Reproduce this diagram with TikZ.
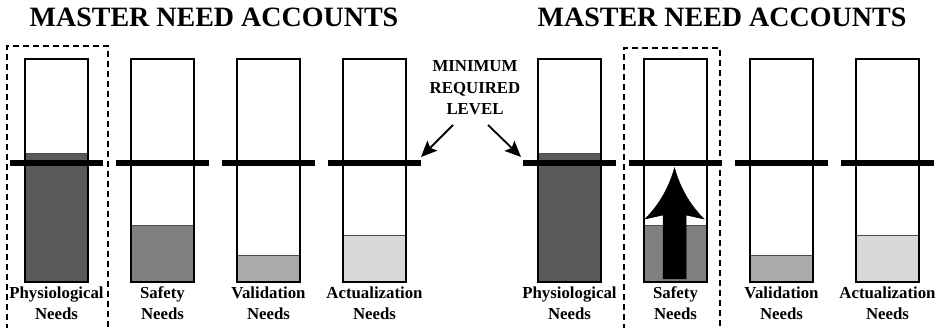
\documentclass[tikz,border=0pt]{standalone}
\usepackage{fontspec}
\setmainfont{Liberation Serif}
\usetikzlibrary{arrows.meta}
\definecolor{lvA}{HTML}{5A5A5A}
\definecolor{lvB}{HTML}{808080}
\definecolor{lvC}{HTML}{AAAAAA}
\definecolor{lvD}{HTML}{D8D8D8}
\tikzset{
  tube/.style={draw=black,line width=1.6pt,fill=none},
  level/.style={draw=black!70,line width=0.9pt},
  minbar/.style={draw=black,line width=6pt},
  focusbox/.style={draw=black,line width=1.5pt,dash pattern=on 6pt off 4pt},
  titletxt/.style={font=\fontsize{28}{32}\selectfont\bfseries,inner sep=0pt,anchor=base},
  lbltxt/.style={font=\fontsize{16.8}{20}\selectfont\bfseries,inner sep=0pt,anchor=base},
  pointer/.style={draw=black,line width=1.8pt,-{Stealth[length=16pt,width=14pt,inset=3pt]}},
  bigarrow/.style={fill=black,draw=black,line width=0.5pt}
}
\begin{document}
\begin{tikzpicture}[x=1pt,y=-1pt]
\useasboundingbox (0,0) rectangle (940,328);
% titles
\node[titletxt] (t1) at (214,27) {MASTER NEED ACCOUNTS};
\node[titletxt] (t2) at (722,27) {MASTER NEED ACCOUNTS};
% dashed focus boxes
\draw[focusbox] (7,340) -- (7,46) -- (108,46) -- (108,340);
\draw[focusbox] (624,340) -- (624,48) -- (720,48) -- (720,340);
% tubes
\foreach \off/\p in {0/L,513/R}{
  \foreach \x/\lv/\col/\i/\nm in {25/153/lvA/1/Physiological,131/225/lvB/2/Safety,237/255/lvC/3/Validation,343/235/lvD/4/Actualization}{
    \coordinate (tl\p\i) at (\x+\off,59);
    \coordinate (br\p\i) at (\x+\off+63,282);
    \fill[\col] (\x+\off,\lv) rectangle (br\p\i);
    \draw[level] (\x+\off,\lv) -- (\x+\off+63,\lv);
    \draw[tube] (tl\p\i) rectangle (br\p\i);
    \coordinate (bl\p\i) at (\x+\off-15,163.5);
    \coordinate (bre\p\i) at (\x+\off+78,163.5);
    \draw[minbar] (bl\p\i) -- (bre\p\i);
    \node[lbltxt] (lab\p\i) at (\x+\off+31.5,299) {\nm};
    \node[lbltxt] (need\p\i) at (\x+\off+31.5,320) {Needs};
  }
}
% minimum required level label
\node[lbltxt] (min1) at (475,72) {MINIMUM};
\node[lbltxt] (min2) at (475,94) {REQUIRED};
\node[lbltxt] (min3) at (475,115) {LEVEL};
\coordinate (pl) at (453,125);
\coordinate (pr) at (488,125);
\coordinate (tipl) at (421,157);
\coordinate (tipr) at (521,157);
\draw[pointer] (pl) -- (tipl);
\draw[pointer] (pr) -- (tipr);
% big upward arrow in safety tube (right)
\draw[bigarrow] (663,279) -- (663,215) -- (645,219)
  .. controls (657,207) and (668,191) .. (674.5,168)
  .. controls (681,191) and (692,207) .. (704,219)
  -- (686,215) -- (686,279) -- cycle;
\end{tikzpicture}
\end{document}
